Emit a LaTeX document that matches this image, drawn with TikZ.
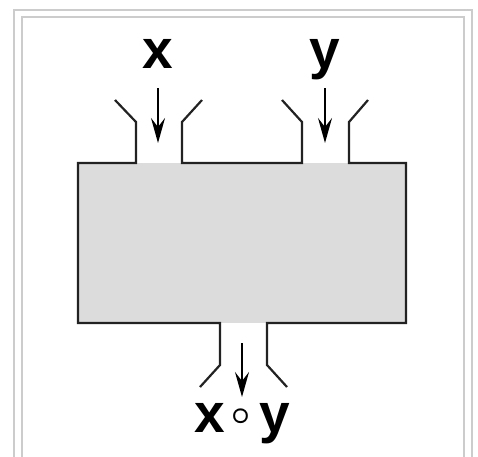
\RequirePackage{fix-cm}
\documentclass[tikz,border=0pt]{standalone}
\usepackage{fontspec}
\setmainfont{Liberation Sans}
\usetikzlibrary{arrows.meta}
\definecolor{framegray}{HTML}{CCCCCC}
\definecolor{boxfill}{HTML}{DCDCDC}
\definecolor{edge}{HTML}{222222}
\tikzset{
  frameline/.style={draw=framegray, line width=2pt},
  wall/.style={draw=edge, line width=2.2pt, line join=miter},
  flow/.style={draw=black, line width=2.2pt, -{Stealth[length=25pt,width=14pt,inset=9pt]}},
  lbl/.style={font=\bfseries\fontsize{55}{55}\selectfont, inner sep=0pt, anchor=base},
}
\begin{document}
\begin{tikzpicture}[x=1pt,y=-1pt]
  \useasboundingbox (0,0) rectangle (478,456);
  % double grey frame, running off the bottom edge
  \draw[frameline] (14,470) -- (14,10) -- (472,10) -- (472,470);
  \draw[frameline] (22,470) -- (22,17) -- (464,17) -- (464,470);

  % body of the machine
  \fill[boxfill] (78,163) rectangle (406,323);

  % outline with the two funnels on top and the spout below
  \draw[wall] (115,100) -- (136,122) -- (136,163) -- (78,163) -- (78,323)
              -- (220,323) -- (220,365) -- (200,387);
  \draw[wall] (202,100) -- (182,122) -- (182,163) -- (302,163) -- (302,122) -- (282,100);
  \draw[wall] (368,100) -- (349,122) -- (349,163) -- (406,163) -- (406,323)
              -- (267,323) -- (267,365) -- (287,387);

  % labels
  \node[lbl] (x) at (158,68) {x};
  \node[lbl] (y) at (325,68) {y};
  \node[lbl] (xy) at (242,432)
    {x\hspace{6.5pt}\raisebox{7.5pt}{\boldmath\fontsize{33}{33}\selectfont$\circ$}\hspace{9pt}y};

  % flow arrows
  \coordinate (xin) at (158,143);
  \coordinate (yin) at (325,143);
  \coordinate (xytop) at (242,343);
  \draw[flow] ([yshift=-20pt]x.base) -- (xin);
  \draw[flow] ([yshift=-20pt]y.base) -- (yin);
  \draw[flow] (xytop) -- ([yshift=35pt]xy.base);
\end{tikzpicture}
\end{document}
